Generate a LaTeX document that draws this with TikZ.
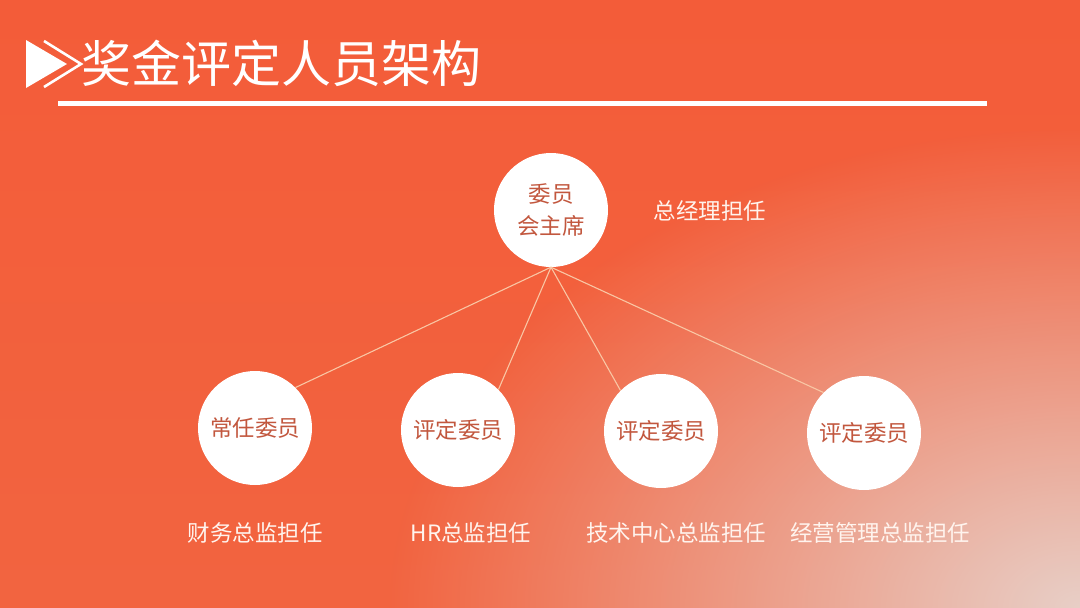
\documentclass[tikz,border=0pt]{standalone}
\usepackage{fontspec}
\newfontfamily\cjk{Noto Sans CJK SC}
\usetikzlibrary{fadings}
\definecolor{bgA}{HTML}{F35C39}
\definecolor{bgB}{HTML}{F26440}
\definecolor{bgL}{HTML}{E8CFC7}
\definecolor{circtext}{HTML}{C2573E}
\definecolor{linkc}{HTML}{F9C6A4}
\definecolor{labelc}{HTML}{FFF4EE}
\tikzfading[name=cfade, inner color=transparent!0, outer color=transparent!100]
\tikzset{
  member/.style={circle, fill=white, minimum size=114pt, inner sep=0pt,
    text=circtext, font=\cjk\fontsize{22.5}{32}\selectfont, align=center},
  duty/.style={inner sep=0pt, text=labelc, font=\cjk\fontsize{22.5}{27}\selectfont},
  link/.style={draw=linkc, line width=1.1pt},
  titletext/.style={inner sep=0pt, text=white, font=\cjk\fontsize{50}{56}\selectfont, anchor=west}
}
\begin{document}
\begin{tikzpicture}[x=1pt, y=-1pt]
\useasboundingbox (0,0) rectangle (1080,608);
% background
\shade[top color=bgA, bottom color=bgB] (0,0) rectangle (1080,608);
\begin{scope}
  \clip (0,0) rectangle (1080,608);
  \fill[bgL, path fading=cfade] (1080,608) ellipse [x radius=690, y radius=480];
\end{scope}
% title
\fill[white] (26,40) -- (26,88) -- (67,64) -- cycle;
\draw[white, line width=2.6pt, line join=miter] (44,41) -- (81,64) -- (44,87);
\node[titletext] (title) at (81,63) {奖金评定人员架构};
\draw[white, line width=5pt] (58,103) -- (987,103);
% nodes
\node[member] (c0) at (551,210) {委员\\会主席};
\node[duty] (d0) at (710,211) {总经理担任};
\node[member] (c1) at (255,428) {常任委员};
\node[member] (c2) at (458,430) {评定委员};
\node[member] (c3) at (661,431) {评定委员};
\node[member] (c4) at (864,433) {评定委员};
\node[duty] (d1) at (255,533) {财务总监担任};
\node[duty] (d2) at (471,533) {HR总监担任};
\node[duty] (d3) at (676,533) {技术中心总监担任};
\node[duty] (d4) at (880,533) {经营管理总监担任};
% connectors
\draw[link] (c0.south) -- (c1.45);
\draw[link] (c0.south) -- (c2.45);
\draw[link] (c0.south) -- (c3.135);
\draw[link] (c0.south) -- (c4.135);
\end{tikzpicture}
\end{document}
